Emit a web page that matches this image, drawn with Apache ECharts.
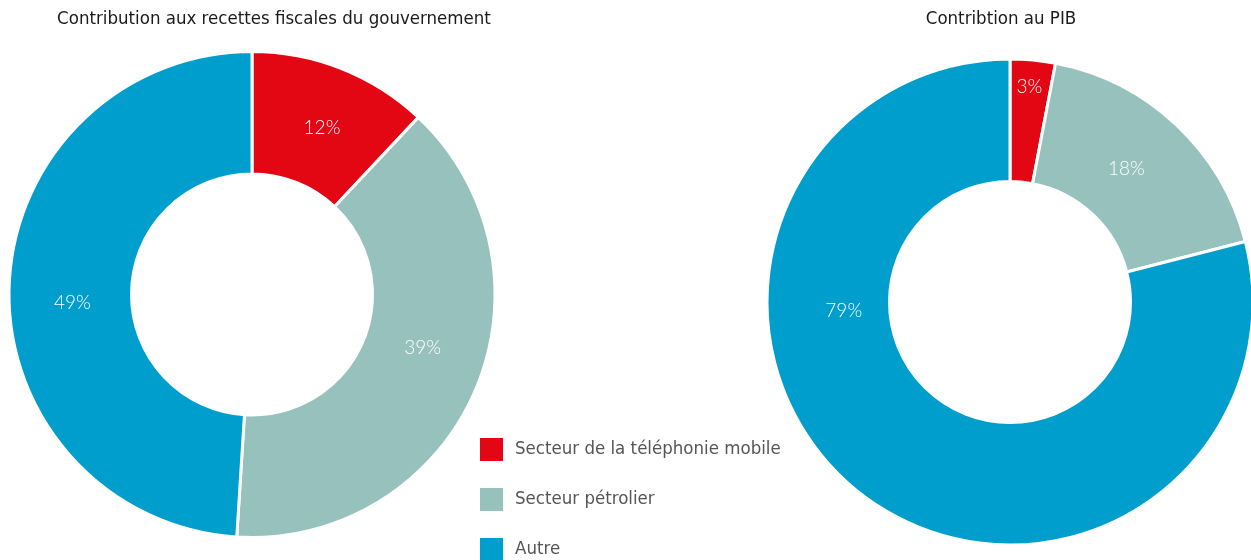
<!DOCTYPE html>
<html>
<head>
<meta charset="utf-8">
<script src="https://cdn.jsdelivr.net/npm/echarts@6/dist/echarts.min.js"></script>
<style>html,body{margin:0;padding:0;background:#fff}#c{width:1251px;height:560px}</style>
</head>
<body>
<div id="c"></div>
<script>
const categories = ['Secteur de la téléphonie mobile', 'Secteur pétrolier', 'Autre'];
const recettesValues = [12, 39, 49];
const pibValues = [3, 18, 79];
const titles = ['Contribution aux recettes fiscales du gouvernement', 'Contribtion au PIB'];

const colors = ['#E30613', '#96C1BD', '#009ECC'];
// label nudges (style), per series, per slice
const nudges = [
  [[2, 5], [1, -20], [5, 14]],
  [[2, -31], [-10, 2], [-53, -137]]
];

const chart = echarts.init(document.getElementById('c'));
function mk(name, vals, center, idx) {
  return {
    type: 'pie',
    name: name,
    center: center,
    radius: [120.5, 243],
    startAngle: 90,
    clockwise: true,
    avoidLabelOverlap: false,
    silent: true,
    itemStyle: { borderColor: '#fff', borderWidth: 3 },
    label: {
      show: true,
      position: 'inside',
      formatter: '{c}%',
      color: '#fff',
      fontFamily: 'Lato',
      fontWeight: 300,
      fontSize: 19
    },
    labelLine: { show: false },
    labelLayout: function (p) {
      const n = nudges[idx][p.dataIndex];
      return { dx: n[0], dy: n[1] };
    },
    data: categories.map((c, i) => ({ name: c, value: vals[i] }))
  };
}
chart.setOption({
  animation: false,
  color: colors,
  title: [
    { text: titles[0], left: 269, top: 5, textAlign: 'center',
      textStyle: { fontFamily: 'DejaVu Sans Condensed', fontWeight: 'normal', fontSize: 18.5, color: '#1a1a1a' } },
    { text: titles[1], left: 996, top: 5, textAlign: 'center',
      textStyle: { fontFamily: 'DejaVu Sans Condensed', fontWeight: 'normal', fontSize: 18.5, color: '#1a1a1a' } }
  ],
  legend: {
    orient: 'vertical',
    left: 478,
    top: 436,
    height: 200,
    padding: 0,
    itemWidth: 25,
    itemHeight: 25,
    itemGap: 23,
    icon: 'rect',
    selectedMode: false,
    data: categories,
    textStyle: { fontFamily: 'DejaVu Sans Condensed', fontWeight: 300, fontSize: 18.5, lineHeight: 25, color: '#555', padding: [0, 0, 0, 6] }
  },
  series: [
    mk(titles[0], recettesValues, [252, 294.5], 0),
    mk(titles[1], pibValues, [1010, 302], 1)
  ]
});
</script>
</body>
</html>
